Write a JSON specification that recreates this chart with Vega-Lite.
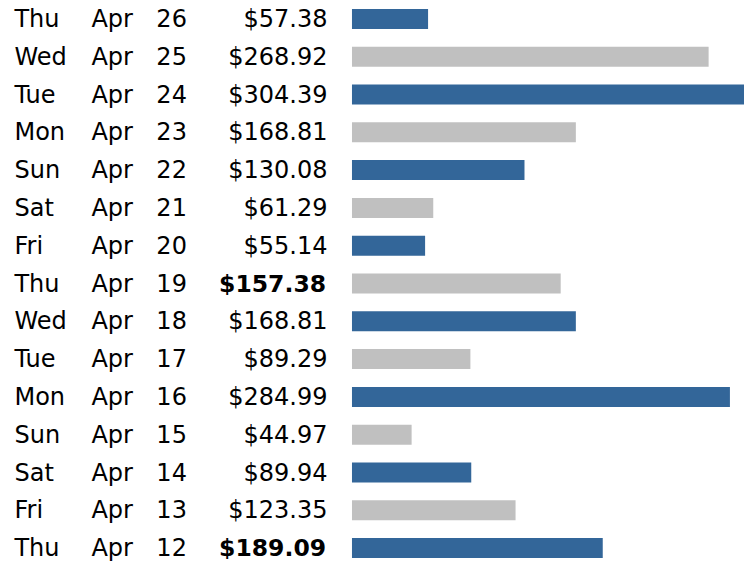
{
  "$schema": "https://vega.github.io/schema/vega-lite/v6.json",
  "autosize": {"type": "fit", "contains": "padding"},
  "width": 744,
  "height": 567,
  "padding": 0,
  "background": "white",
  "config": {"view": {"stroke": null}},
  "data": {
    "values": [
      {"day": "Thu", "month": "Apr", "date": 26, "amount": 57.38, "flagged": false},
      {"day": "Wed", "month": "Apr", "date": 25, "amount": 268.92, "flagged": false},
      {"day": "Tue", "month": "Apr", "date": 24, "amount": 304.39, "flagged": false},
      {"day": "Mon", "month": "Apr", "date": 23, "amount": 168.81, "flagged": false},
      {"day": "Sun", "month": "Apr", "date": 22, "amount": 130.08, "flagged": false},
      {"day": "Sat", "month": "Apr", "date": 21, "amount": 61.29, "flagged": false},
      {"day": "Fri", "month": "Apr", "date": 20, "amount": 55.14, "flagged": false},
      {"day": "Thu", "month": "Apr", "date": 19, "amount": 157.38, "flagged": true},
      {"day": "Wed", "month": "Apr", "date": 18, "amount": 168.81, "flagged": false},
      {"day": "Tue", "month": "Apr", "date": 17, "amount": 89.29, "flagged": false},
      {"day": "Mon", "month": "Apr", "date": 16, "amount": 284.99, "flagged": false},
      {"day": "Sun", "month": "Apr", "date": 15, "amount": 44.97, "flagged": false},
      {"day": "Sat", "month": "Apr", "date": 14, "amount": 89.94, "flagged": false},
      {"day": "Fri", "month": "Apr", "date": 13, "amount": 123.35, "flagged": false},
      {"day": "Thu", "month": "Apr", "date": 12, "amount": 189.09, "flagged": true}
    ]
  },
  "encoding": {
    "y": {
      "field": "date",
      "type": "ordinal",
      "sort": "descending",
      "scale": {"paddingInner": 0, "paddingOuter": 0},
      "axis": null
    }
  },
  "layer": [
    {
      "mark": {"type": "bar", "size": 20, "clip": true},
      "encoding": {
        "x": {
          "field": "amount",
          "type": "quantitative",
          "scale": {"domain": [-265.4, 295.6], "nice": false, "zero": false},
          "axis": null
        },
        "color": {
          "condition": {"test": "datum.date % 2 === 0", "value": "#336699"},
          "value": "#c0c0c0"
        }
      }
    },
    {
      "mark": {"type": "text", "align": "left", "baseline": "middle", "dy": 1, "font": "DejaVu Sans", "fontSize": 24, "color": "#000000"},
      "encoding": {"x": {"datum": -254.5}, "text": {"field": "day"}}
    },
    {
      "mark": {"type": "text", "align": "left", "baseline": "middle", "dy": 1, "font": "DejaVu Sans", "fontSize": 24, "color": "#000000"},
      "encoding": {"x": {"datum": -196.5}, "text": {"field": "month"}}
    },
    {
      "mark": {"type": "text", "align": "left", "baseline": "middle", "dy": 1, "font": "DejaVu Sans", "fontSize": 24, "color": "#000000"},
      "encoding": {"x": {"datum": -147.5}, "text": {"field": "date"}}
    },
    {
      "transform": [{"filter": "!datum.flagged"}],
      "mark": {"type": "text", "align": "right", "baseline": "middle", "dy": 1, "font": "DejaVu Sans", "fontSize": 24, "color": "#000000"},
      "encoding": {
        "x": {"datum": -18.5},
        "text": {"field": "amount", "type": "quantitative", "format": "$,.2f"}
      }
    },
    {
      "transform": [{"filter": "datum.flagged"}],
      "mark": {"type": "text", "align": "right", "baseline": "middle", "dy": 1, "font": "DejaVu Sans", "fontSize": 23.5, "fontWeight": "bold", "color": "#000000"},
      "encoding": {
        "x": {"datum": -19.5},
        "text": {"field": "amount", "type": "quantitative", "format": "$,.2f"}
      }
    }
  ]
}
